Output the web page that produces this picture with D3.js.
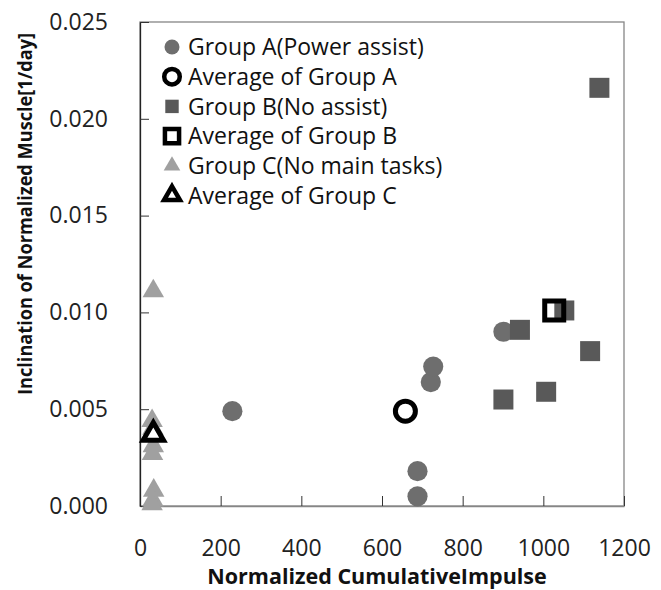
<!DOCTYPE html>
<html>
<head>
<meta charset="utf-8">
<script src="https://cdn.jsdelivr.net/npm/d3@7"></script>
<style>
  body { margin: 0; background: #fff; }
  text { font-family: "Open Sans", sans-serif; }
</style>
</head>
<body>
<div id="chart"></div>
<script>
var width = 661;
var height = 590;
var margin = {top: 22, right: 37, bottom: 84, left: 140};

// data
var groupA = [[229, 0.0049], [688, 0.0018], [688, 0.0005], [721, 0.0064], [727, 0.0072], [901, 0.0090]];
var avgA = [[658, 0.0049]];
var groupB = [[901, 0.0055], [942, 0.0091], [1007, 0.0059], [1052, 0.0101], [1116, 0.0080], [1139, 0.0216]];
var avgB = [[1027, 0.0101]];
var groupC = [[33, 0.0111], [30, 0.0044], [32, 0.0040], [33, 0.0031], [31, 0.0027], [34, 0.0008], [32, 0.0003], [30, 0.0001]];
var avgC = [[33, 0.0037]];

var xTicks = [0, 200, 400, 600, 800, 1000, 1200];
var yTicks = [0, 0.005, 0.010, 0.015, 0.020, 0.025];
var legendLabels = ["Group A(Power assist)", "Average of Group A", "Group B(No assist)",
                    "Average of Group B", "Group C(No main tasks)", "Average of Group C"];

var svg = d3.select("#chart").append("svg")
  .attr("width", width)
  .attr("height", height);

var x = d3.scaleLinear().domain([0, 1200]).range([margin.left, width - margin.right]);
var y = d3.scaleLinear().domain([0, 0.025]).range([height - margin.bottom, margin.top]);

// plot frame
svg.append("rect")
  .attr("x", x(0)).attr("y", y(0.025))
  .attr("width", x(1200) - x(0)).attr("height", y(0) - y(0.025))
  .attr("fill", "none").attr("stroke", "#868686").attr("stroke-width", 1.3);

// axes, ticks pointing inward
var xAxis = svg.append("g")
  .attr("transform", "translate(0," + y(0) + ")")
  .call(d3.axisBottom(x).tickValues(xTicks).tickFormat(d3.format("d"))
    .tickSizeInner(-10).tickSizeOuter(0).tickPadding(34));
var yAxis = svg.append("g")
  .attr("transform", "translate(" + x(0) + ",0)")
  .call(d3.axisLeft(y).tickValues(yTicks).tickFormat(d3.format(".3f"))
    .tickSizeInner(-9).tickSizeOuter(0).tickPadding(32));

xAxis.select(".domain").attr("stroke", "#868686").attr("stroke-width", 1.3);
yAxis.select(".domain").attr("stroke", "#222").attr("stroke-width", 1.3);
xAxis.selectAll(".tick line").attr("stroke", "#333");
yAxis.selectAll(".tick line").attr("stroke", "#333");
svg.selectAll(".tick text").attr("font-size", 23).attr("fill", "#222")
  .style("font-family", "Open Sans, sans-serif");

// axis titles
svg.append("text")
  .attr("x", 377).attr("y", 584)
  .attr("text-anchor", "middle")
  .attr("font-size", 21.5).attr("font-weight", "bold").attr("fill", "#111")
  .text("Normalized CumulativeImpulse");
svg.append("text")
  .attr("transform", "translate(32,214) rotate(-90)")
  .attr("text-anchor", "middle")
  .attr("font-size", 19.5).attr("font-weight", "bold").attr("fill", "#111")
  .attr("textLength", 362).attr("lengthAdjust", "spacingAndGlyphs")
  .text("Inclination of Normalized Muscle[1/day]");

var circle = d3.symbol().type(d3.symbolCircle);
var square = d3.symbol().type(d3.symbolSquare);
var triangle = d3.symbol().type(d3.symbolTriangle);

function drawSeries(data, gen, size, fill, stroke, sw) {
  svg.append("g").selectAll("path")
    .data(data)
    .enter()
    .append("path")
    .attr("transform", function(d) { return "translate(" + x(d[0]) + "," + y(d[1]) + ")"; })
    .attr("d", gen.size(size)())
    .attr("fill", fill)
    .attr("stroke", stroke)
    .attr("stroke-width", sw);
}

drawSeries(groupA, circle, 320, "#6e6e6e", "none", 0);
drawSeries(avgA, circle, 314, "none", "#000", 5);
drawSeries(groupB, square, 400, "#595959", "none", 0);
drawSeries(avgB, square, 361, "none", "#000", 5);
drawSeries(groupC, triangle, 200, "#a0a0a0", "none", 0);
drawSeries(avgC, triangle, 180, "#fff", "#000", 5);

// legend
var legendStyles = [
  {gen: circle, size: 177, fill: "#6e6e6e", stroke: "none", sw: 0},
  {gen: circle, size: 190, fill: "none", stroke: "#000", sw: 4.5},
  {gen: square, size: 180, fill: "#595959", stroke: "none", sw: 0},
  {gen: square, size: 200, fill: "none", stroke: "#000", sw: 4.5},
  {gen: triangle, size: 120, fill: "#a0a0a0", stroke: "none", sw: 0},
  {gen: triangle, size: 110, fill: "#fff", stroke: "#000", sw: 4.5}
];

var legend = svg.selectAll(".legend")
  .data(legendLabels)
  .enter()
  .append("g")
  .attr("class", "legend")
  .attr("transform", function(d, i) { return "translate(172," + (47 + i * 29.7) + ")"; });

legend.append("path")
  .attr("d", function(d, i) { return legendStyles[i].gen.size(legendStyles[i].size)(); })
  .attr("fill", function(d, i) { return legendStyles[i].fill; })
  .attr("stroke", function(d, i) { return legendStyles[i].stroke; })
  .attr("stroke-width", function(d, i) { return legendStyles[i].sw; });

legend.append("text")
  .attr("x", 16)
  .attr("dy", "0.36em")
  .attr("font-size", 23)
  .attr("fill", "#111")
  .text(function(d) { return d; });
</script>
</body>
</html>
